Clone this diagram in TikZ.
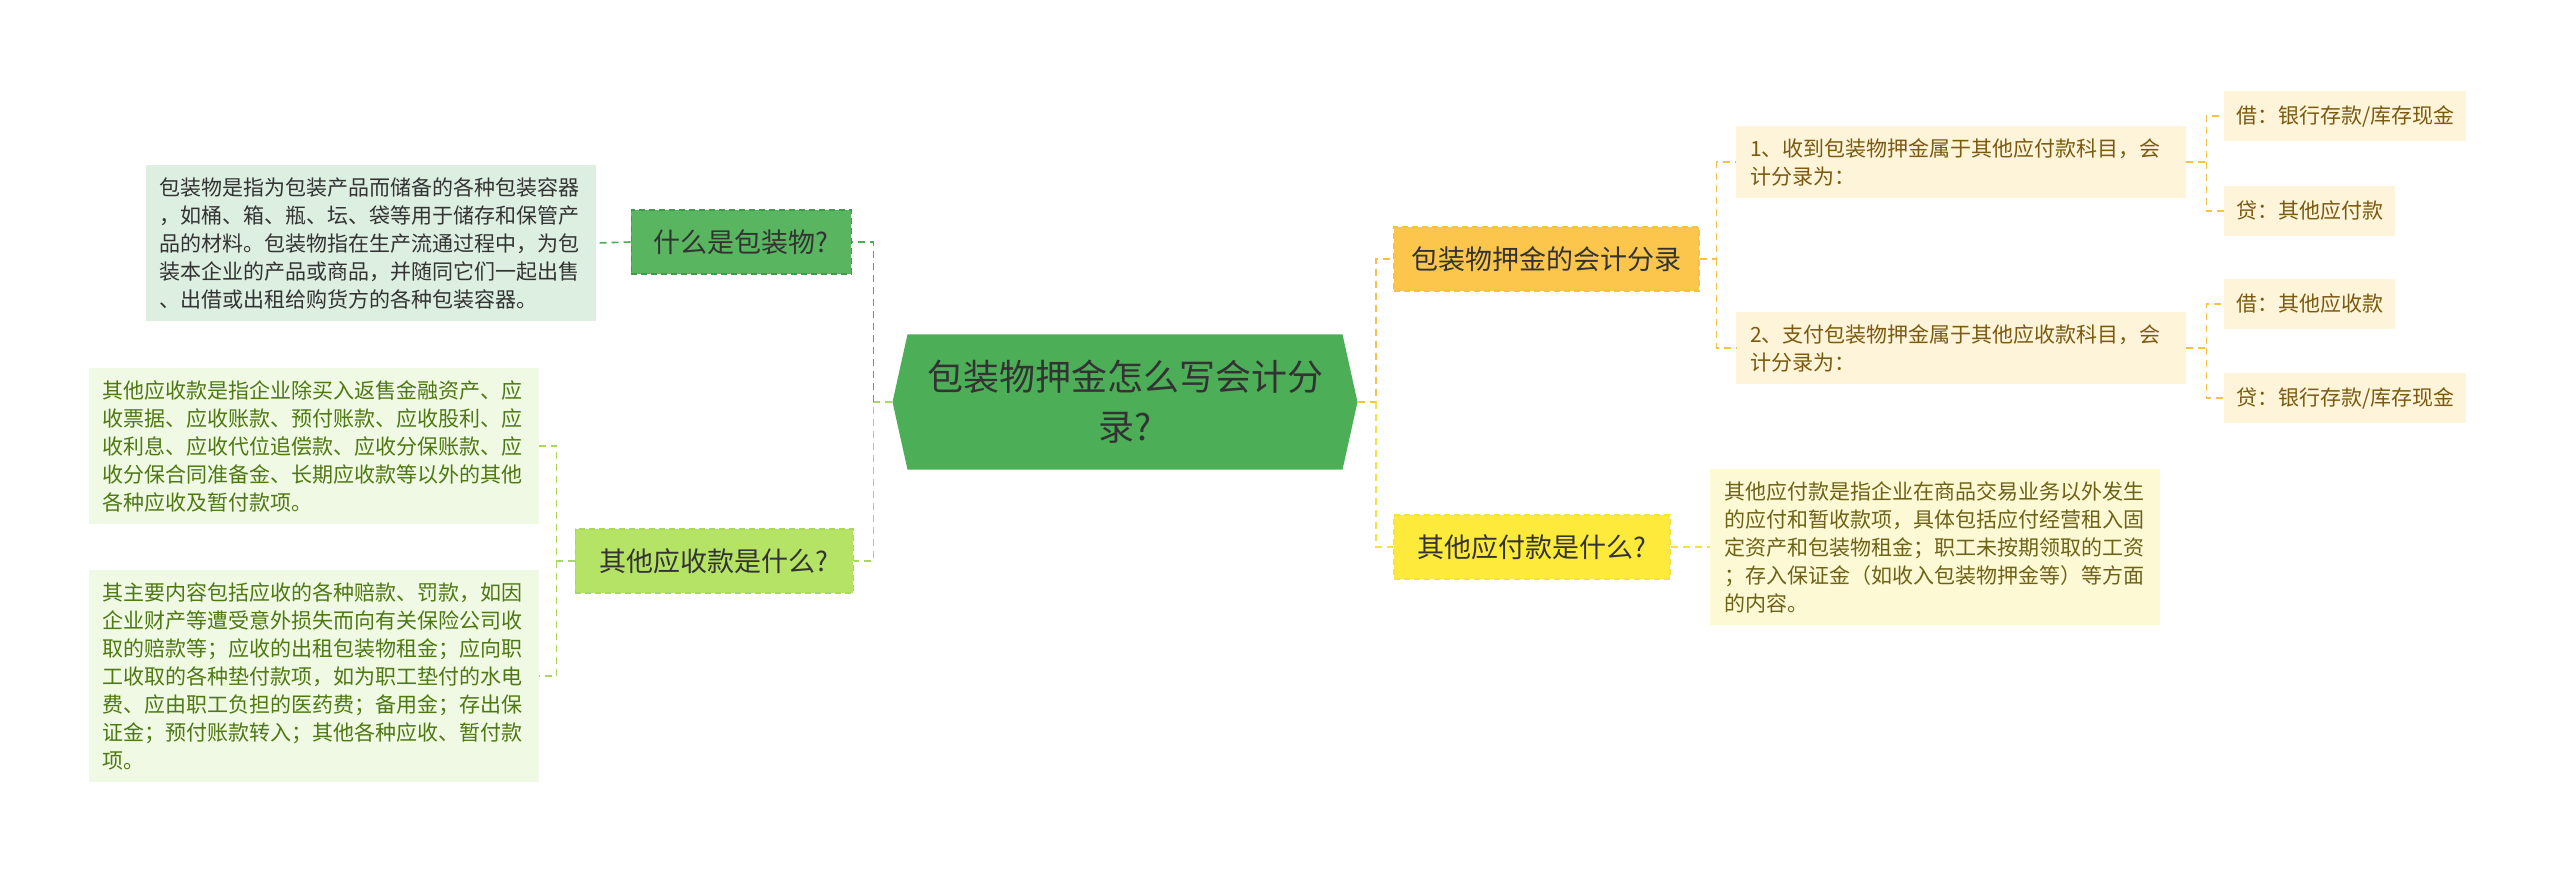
\documentclass[tikz,border=0pt]{standalone}
\usepackage{fontspec}
\setmainfont{Noto Sans CJK SC}
\usetikzlibrary{shapes.symbols}

\definecolor{rootgreen}{HTML}{4DAE58}
\definecolor{whatfill}{HTML}{5AB561}
\definecolor{whatedge}{HTML}{3F9B49}
\definecolor{whatdescfill}{HTML}{DDEFE1}
\definecolor{recvfill}{HTML}{B5E365}
\definecolor{recvline}{HTML}{A8D95C}
\definecolor{recvdescfill}{HTML}{F0F9E3}
\definecolor{recvtext}{HTML}{4E7812}
\definecolor{entryfill}{HTML}{FBC64B}
\definecolor{entryline}{HTML}{F4C245}
\definecolor{stepfill}{HTML}{FDF4DA}
\definecolor{steptext}{HTML}{7B5A10}
\definecolor{payfill}{HTML}{FDEA3B}
\definecolor{payline}{HTML}{F6E23E}
\definecolor{paydescfill}{HTML}{FEF9D5}
\definecolor{paytext}{HTML}{6E6217}
\definecolor{inktext}{HTML}{333333}

\tikzset{
  topic/.style={rectangle, draw, dashed, dash pattern=on 6pt off 4pt, line width=1.5pt,
    font=\fontsize{27}{34}\selectfont, text=inktext, inner xsep=15pt, minimum height=64pt},
  note/.style={rectangle, align=left, font=\fontsize{21}{28}\selectfont,
    text width=422pt, inner xsep=14pt, inner ysep=12pt},
  leaf/.style={rectangle, font=\fontsize{21}{28}\selectfont, text=steptext, fill=stepfill,
    inner xsep=12pt, minimum height=50pt},
  link/.style={dashed, dash pattern=on 7pt off 5pt, line width=1.6pt},
}

\begin{document}
\begin{tikzpicture}[x=1pt,y=-1pt]
\useasboundingbox (0,0) rectangle (2560,877);

% centre
\node[shape=signal, signal to=west and east, signal pointer angle=155, fill=rootgreen,
  minimum width=465pt, minimum height=135pt, inner sep=0pt, align=center, text=inktext,
  font=\fontsize{36}{50}\selectfont] (root) at (1125,402) {包装物押金怎么写会计分\\录?};

% left branches
\node[topic, fill=whatfill, draw=whatedge, minimum width=220pt, anchor=east] (what) at (852,242) {什么是包装物?};
\node[note, fill=whatdescfill, text=inktext, anchor=east] (whatdesc) at (596,243)
  {包装物是指为包装产品而储备的各种包装容器\\，如桶、箱、瓶、坛、袋等用于储存和保管产\\品的材料。包装物指在生产流通过程中，为包\\装本企业的产品或商品，并随同它们一起出售\\、出借或出租给购货方的各种包装容器。};
\node[topic, fill=recvfill, draw=recvline, minimum width=278pt, anchor=east] (recv) at (854,561) {其他应收款是什么?};
\node[note, fill=recvdescfill, text=recvtext, anchor=east] (recvdescA) at (539,446)
  {其他应收款是指企业除买入返售金融资产、应\\收票据、应收账款、预付账款、应收股利、应\\收利息、应收代位追偿款、应收分保账款、应\\收分保合同准备金、长期应收款等以外的其他\\各种应收及暂付款项。};
\node[note, fill=recvdescfill, text=recvtext, anchor=east] (recvdescB) at (539,676)
  {其主要内容包括应收的各种赔款、罚款，如因\\企业财产等遭受意外损失而向有关保险公司收\\取的赔款等；应收的出租包装物租金；应向职\\工收取的各种垫付款项，如为职工垫付的水电\\费、应由职工负担的医药费；备用金；存出保\\证金；预付账款转入；其他各种应收、暂付款\\项。};

% right branches
\node[topic, fill=entryfill, draw=entryline, minimum width=305pt, anchor=west] (entry) at (1393,259) {包装物押金的会计分录};
\node[note, fill=stepfill, text=steptext, anchor=west] (stepA) at (1736,162)
  {1、收到包装物押金属于其他应付款科目，会\\计分录为：};
\node[note, fill=stepfill, text=steptext, anchor=west] (stepB) at (1736,348)
  {2、支付包装物押金属于其他应收款科目，会\\计分录为：};
\node[leaf, anchor=west] (debitA) at (2224,116) {借：银行存款/库存现金};
\node[leaf, anchor=west] (creditA) at (2224,211) {贷：其他应付款};
\node[leaf, anchor=west] (debitB) at (2224,304) {借：其他应收款};
\node[leaf, anchor=west] (creditB) at (2224,398) {贷：银行存款/库存现金};
\node[topic, fill=payfill, draw=payline, minimum width=276pt, anchor=west] (pay) at (1393,547) {其他应付款是什么?};
\node[note, fill=paydescfill, text=paytext, anchor=west] (paydesc) at (1710,547)
  {其他应付款是指企业在商品交易业务以外发生\\的应付和暂收款项，具体包括应付经营租入固\\定资产和包装物租金；职工未按期领取的工资\\；存入保证金（如收入包装物押金等）等方面\\的内容。};

% connectors
\draw[link, recvline] (root.west) -- ++(-19,0) |- (recv.east);
\draw[link, rootgreen] (root.west) ++(-19,0) |- (what.east);
\draw[link, rootgreen] (what.west) -- (whatdesc.east);
\draw[link, recvline] (recv.west) -- ++(-18,0) |- (recvdescA.east);
\draw[link, recvline] (recv.west) ++(-18,0) |- (recvdescB.east);
\draw[link, entryline] (root.east) -- ++(18,0) |- (entry.west);
\draw[link, payline] (root.east) ++(18,0) |- (pay.west);
\draw[link, entryline] (entry.east) -- ++(17,0) |- (stepA.west);
\draw[link, entryline] (entry.east) ++(17,0) |- (stepB.west);
\draw[link, entryline] (stepA.east) -- ++(20,0) |- (debitA.west);
\draw[link, entryline] (stepA.east) ++(20,0) |- (creditA.west);
\draw[link, entryline] (stepB.east) -- ++(20,0) |- (debitB.west);
\draw[link, entryline] (stepB.east) ++(20,0) |- (creditB.west);
\draw[link, payline] (pay.east) -- (paydesc.west);
\end{tikzpicture}
\end{document}
